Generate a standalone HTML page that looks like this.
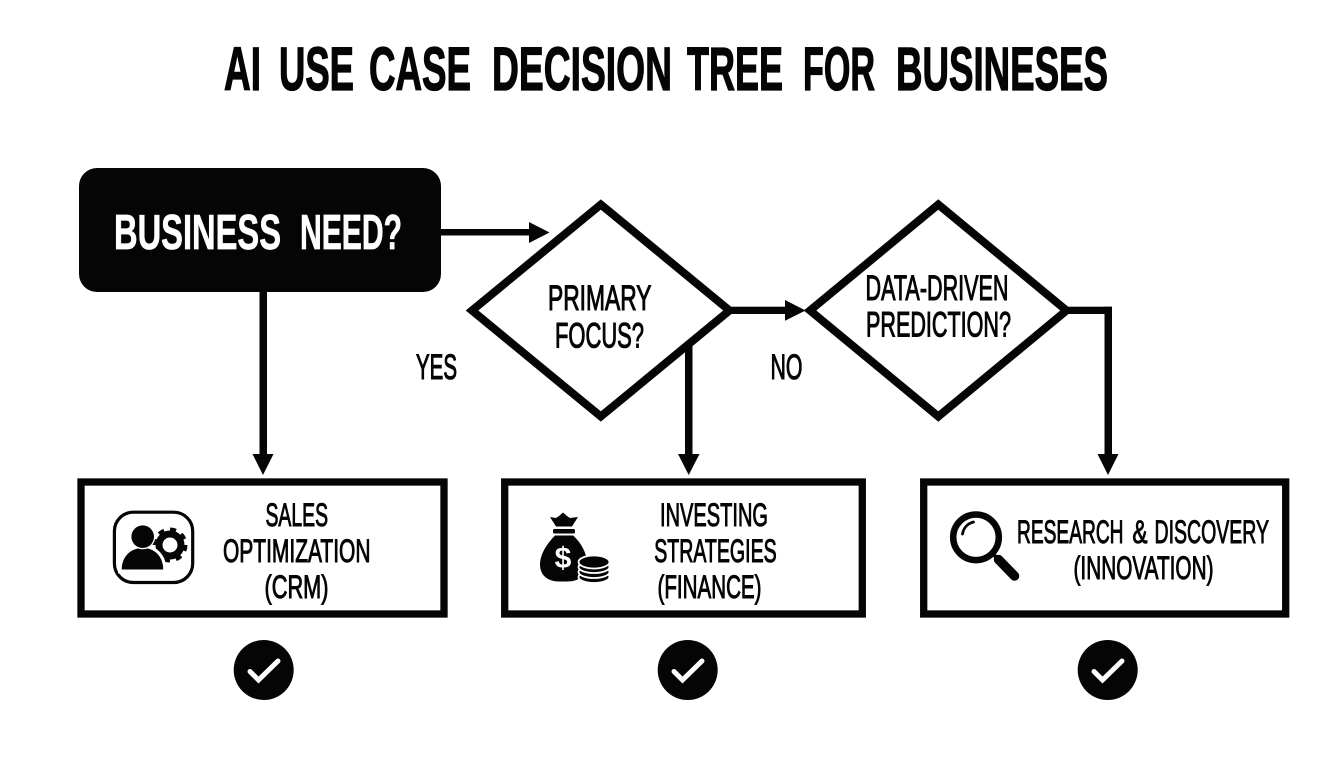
<!DOCTYPE html>
<html lang="en">
<head>
<meta charset="utf-8">
<title>AI Use Case Decision Tree for Businesses</title>
<style>
html,body{margin:0;padding:0;background:#fff;width:1344px;height:768px;overflow:hidden}
svg{display:block}
text{font-family:"Liberation Sans Narrow","Liberation Sans",sans-serif;font-weight:700;fill:#050505}
.h{font-size:61px;stroke:#050505;stroke-width:1.300px}
.b{font-size:49px;fill:#fff;stroke:#fff;stroke-width:.7px}
.t{font-size:32px;font-weight:400;stroke:#050505;stroke-width:1px}
.d{font-size:35px;font-weight:400;stroke:#050505;stroke-width:1.100px}
</style>
</head>
<body>
<svg width="1344" height="768" viewBox="0 0 1344 768" xmlns="http://www.w3.org/2000/svg">
<rect width="1344" height="768" fill="#fff"/>

<g>
<text class="h" x="224" y="90" textLength="37" lengthAdjust="spacingAndGlyphs">AI</text>
<text class="h" x="279" y="90" textLength="75" lengthAdjust="spacingAndGlyphs">USE</text>
<text class="h" x="369" y="90" textLength="102" lengthAdjust="spacingAndGlyphs">CASE</text>
<text class="h" x="492" y="90" textLength="180" lengthAdjust="spacingAndGlyphs">DECISION</text>
<text class="h" x="687" y="90" textLength="96" lengthAdjust="spacingAndGlyphs">TREE</text>
<text class="h" x="803" y="90" textLength="72" lengthAdjust="spacingAndGlyphs">FOR</text>
<text class="h" x="896" y="90" textLength="212" lengthAdjust="spacingAndGlyphs">BUSINESES</text>
</g>

<rect x="79" y="168" width="362" height="124" rx="18" fill="#050505"/>
<text class="b" x="114" y="249" textLength="167" lengthAdjust="spacingAndGlyphs">BUSINESS</text>
<text class="b" x="300" y="249" textLength="102" lengthAdjust="spacingAndGlyphs">NEED?</text>

<polygon points="600.800,204.500 729.500,310.500 600.800,416.500 472,310.500" fill="#fff" stroke="#050505" stroke-width="8" stroke-linejoin="miter"/>
<polygon points="938.300,204.500 1066.500,310.500 938.300,416.500 810,310.500" fill="#fff" stroke="#050505" stroke-width="8" stroke-linejoin="miter"/>

<g fill="#050505">
<rect x="441" y="229" width="90" height="6.500"/>
<polygon points="529,222 549.500,232.500 529,243"/>
<rect x="727" y="306.700" width="60" height="7.300"/>
<polygon points="785,300 805.500,310.500 785,320.700"/>
<rect x="259.500" y="292" width="7.500" height="164"/>
<polygon points="252.500,454 273.500,454 263,475"/>
<rect x="685" y="343" width="7.500" height="113"/>
<polygon points="678,454 699.500,454 688.700,475"/>
<rect x="1064" y="306.700" width="48" height="7.300"/>
<rect x="1104.500" y="306.700" width="7.500" height="149"/>
<polygon points="1097.500,454 1118.500,454 1108,475"/>
</g>

<text class="d" x="548" y="310" textLength="103.500" lengthAdjust="spacingAndGlyphs">PRIMARY</text>
<text class="d" x="555" y="347.500" textLength="89" lengthAdjust="spacingAndGlyphs">FOCUS?</text>
<text class="d" x="865.500" y="300" textLength="143" lengthAdjust="spacingAndGlyphs">DATA-DRIVEN</text>
<text class="d" x="866" y="336.500" textLength="145" lengthAdjust="spacingAndGlyphs">PREDICTION?</text>
<text class="d" x="416" y="379" textLength="41" lengthAdjust="spacingAndGlyphs">YES</text>
<text class="d" x="770.500" y="379" textLength="32" lengthAdjust="spacingAndGlyphs">NO</text>

<g fill="#fff" stroke="#050505" stroke-width="7.300">
<rect x="81" y="482" width="363" height="132"/>
<rect x="504.700" y="482" width="357.600" height="132"/>
<rect x="923.700" y="482" width="362" height="132"/>
</g>

<text class="t" x="265.500" y="526" textLength="62.500" lengthAdjust="spacingAndGlyphs">SALES</text>
<text class="t" x="223" y="562" textLength="147.500" lengthAdjust="spacingAndGlyphs">OPTIMIZATION</text>
<text class="t" x="264.500" y="598" textLength="64" lengthAdjust="spacingAndGlyphs">(CRM)</text>

<text class="t" x="660" y="526" textLength="108" lengthAdjust="spacingAndGlyphs">INVESTING</text>
<text class="t" x="654.200" y="562" textLength="122.500" lengthAdjust="spacingAndGlyphs">STRATEGIES</text>
<text class="t" x="657.500" y="598" textLength="104" lengthAdjust="spacingAndGlyphs">(FINANCE)</text>

<text class="t" x="1017" y="543" textLength="106.500" lengthAdjust="spacingAndGlyphs">RESEARCH</text>
<text class="t" x="1132.500" y="543" textLength="15" lengthAdjust="spacingAndGlyphs">&amp;</text>
<text class="t" x="1154.500" y="543" textLength="114.500" lengthAdjust="spacingAndGlyphs">DISCOVERY</text>
<text class="t" x="1073.500" y="579" textLength="140" lengthAdjust="spacingAndGlyphs">(INNOVATION)</text>

<!-- CRM icon -->
<rect x="114.400" y="512.200" width="78.300" height="70.300" rx="19" fill="#fff" stroke="#050505" stroke-width="3.200"/>
<circle cx="170" cy="545" r="11" fill="none" stroke="#050505" stroke-width="7"/>
<circle cx="170" cy="545" r="15.500" fill="none" stroke="#050505" stroke-width="4" stroke-dasharray="6 6.170"/>
<path d="M121.700 569.500c0-13 9-21.500 21-21.500c12 0 20.500 8.500 20.500 21.500z" fill="#050505" stroke="#fff" stroke-width="6" paint-order="stroke"/>
<circle cx="142.700" cy="536.700" r="11.300" fill="#050505" stroke="#fff" stroke-width="2.500" paint-order="stroke"/>
<rect x="118" y="569.500" width="50" height="4" fill="#fff"/>

<!-- Finance icon -->
<g fill="#050505">
<path d="M550 517l6 1 3-2 4-3.500 4 3.500 3 2 8-1-6 9.500h-16z"/>
<rect x="553" y="529" width="22" height="4.500" rx="1.500"/>
<path d="M555 535.500h18c7 6 14 17 14 28c0 12-8 18-20 18h-8c-11 0-19-6-19-17c0-11 8-22 15-29z"/>
</g>
<text x="563" y="568" font-size="30" text-anchor="middle" style="fill:#fff">$</text>
<g fill="#050505" stroke="#fff" stroke-width="1.800">
<ellipse cx="594" cy="577" rx="15.500" ry="6"/>
<ellipse cx="594" cy="572" rx="15.500" ry="6"/>
<ellipse cx="594" cy="567" rx="15.500" ry="6"/>
<ellipse cx="594" cy="562" rx="15.500" ry="6.500"/>
</g>

<!-- Magnifier icon -->
<circle cx="976" cy="537.300" r="22.800" fill="#fff" stroke="#050505" stroke-width="6.500"/>
<path d="M962.500 534c1-6 5-10.500 11-12" fill="none" stroke="#050505" stroke-width="2.800" stroke-linecap="round"/>
<path d="M993 554l6 6" stroke="#050505" stroke-width="4" fill="none"/>
<path d="M998.500 559.500l16 16.500" stroke="#050505" stroke-width="9.500" stroke-linecap="round" fill="none"/>

<!-- Checks -->
<g fill="#050505">
<circle cx="263.700" cy="670" r="30"/>
<circle cx="687.700" cy="670" r="30"/>
<circle cx="1107.700" cy="670" r="30"/>
</g>
<g fill="none" stroke="#fff" stroke-width="5" stroke-linecap="round" stroke-linejoin="miter">
<path d="M250 671.500l8.500 8.500 19.500-19"/>
<path d="M674 671.500l8.500 8.500 19.500-19"/>
<path d="M1094 671.500l8.500 8.500 19.500-19"/>
</g>
</svg>
</body>
</html>
